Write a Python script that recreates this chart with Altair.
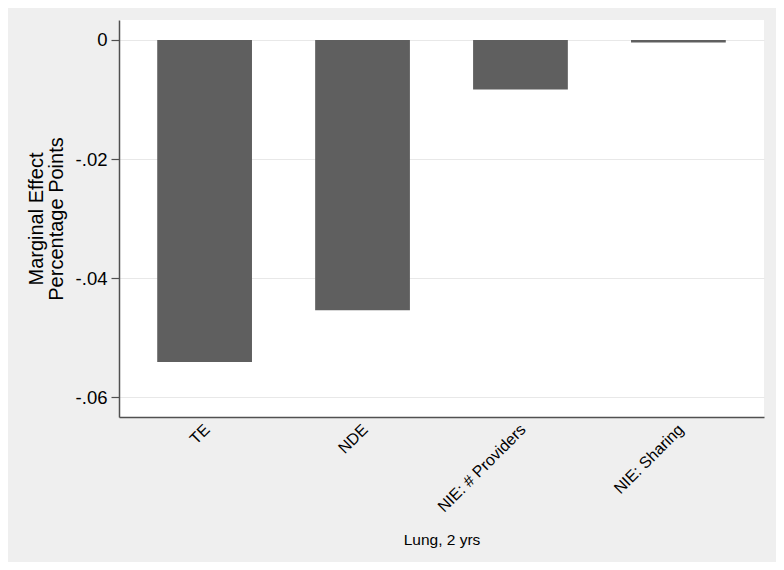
import altair as alt
import pandas as pd

categories = ["TE", "NDE", "NIE: # Providers", "NIE: Sharing"]
effects = [-0.0541, -0.0454, -0.0083, -0.0004]
y_ticks = [0, -0.02, -0.04, -0.06]

df = pd.DataFrame({"cat": categories, "val": effects})

W, H = 645, 397
PAD_L, PAD_T = 111, 12
CANVAS_W, CANVAS_H = 768, 554

chart = alt.Chart(df).mark_bar(color="#5f5f5f").encode(
    x=alt.X(
        "cat:N",
        sort=categories,
        scale=alt.Scale(paddingInner=0.4, paddingOuter=0.242),
        axis=alt.Axis(
            title="Lung, 2 yrs",
            labelAngle=-45,
            labelAlign="right",
            labelBaseline="top",
            labelFontSize=16,
            labelPadding=4,
            labelOffset=-3,
            ticks=False,
            domainColor="#505050",
            domainWidth=1.5,
            titleFontSize=15.5,
            titleFontWeight="normal",
            titleY=127,
            titleBaseline="alphabetic",
            grid=False,
        ),
    ),
    y=alt.Y(
        "val:Q",
        scale=alt.Scale(domain=[-0.06336, 0.003361], nice=False, zero=False),
        axis=alt.Axis(
            title=["Marginal Effect", "Percentage Points"],
            values=y_ticks,
            labelExpr="datum.value == 0 ? '0' : '-.0' + toString(abs(round(datum.value*100)))",
            labelFontSize=18.5,
            labelPadding=4,
            tickSize=8,
            tickColor="#505050",
            tickWidth=1.2,
            domainColor="#505050",
            domainWidth=1.5,
            grid=True,
            gridColor="#e8e8e8",
            gridWidth=1.2,
            titleFontSize=20,
            titleFontWeight="normal",
            titleLineHeight=20,
            titlePadding=9,
        ),
    ),
).properties(
    width=W,
    height=H,
    autosize=alt.AutoSizeParams(type="none"),
    padding={"left": PAD_L, "top": PAD_T, "right": CANVAS_W - PAD_L - W, "bottom": CANVAS_H - PAD_T - H},
).configure(
    background="#efefef",
    font="Liberation Sans",
).configure_view(
    fill="white",
    stroke=None,
).configure_axis(
    labelColor="black",
    titleColor="black",
    labelFont="Liberation Sans",
    titleFont="Liberation Sans",
)

chart.save("out.html", embed_options={"renderer": "svg", "actions": False})
